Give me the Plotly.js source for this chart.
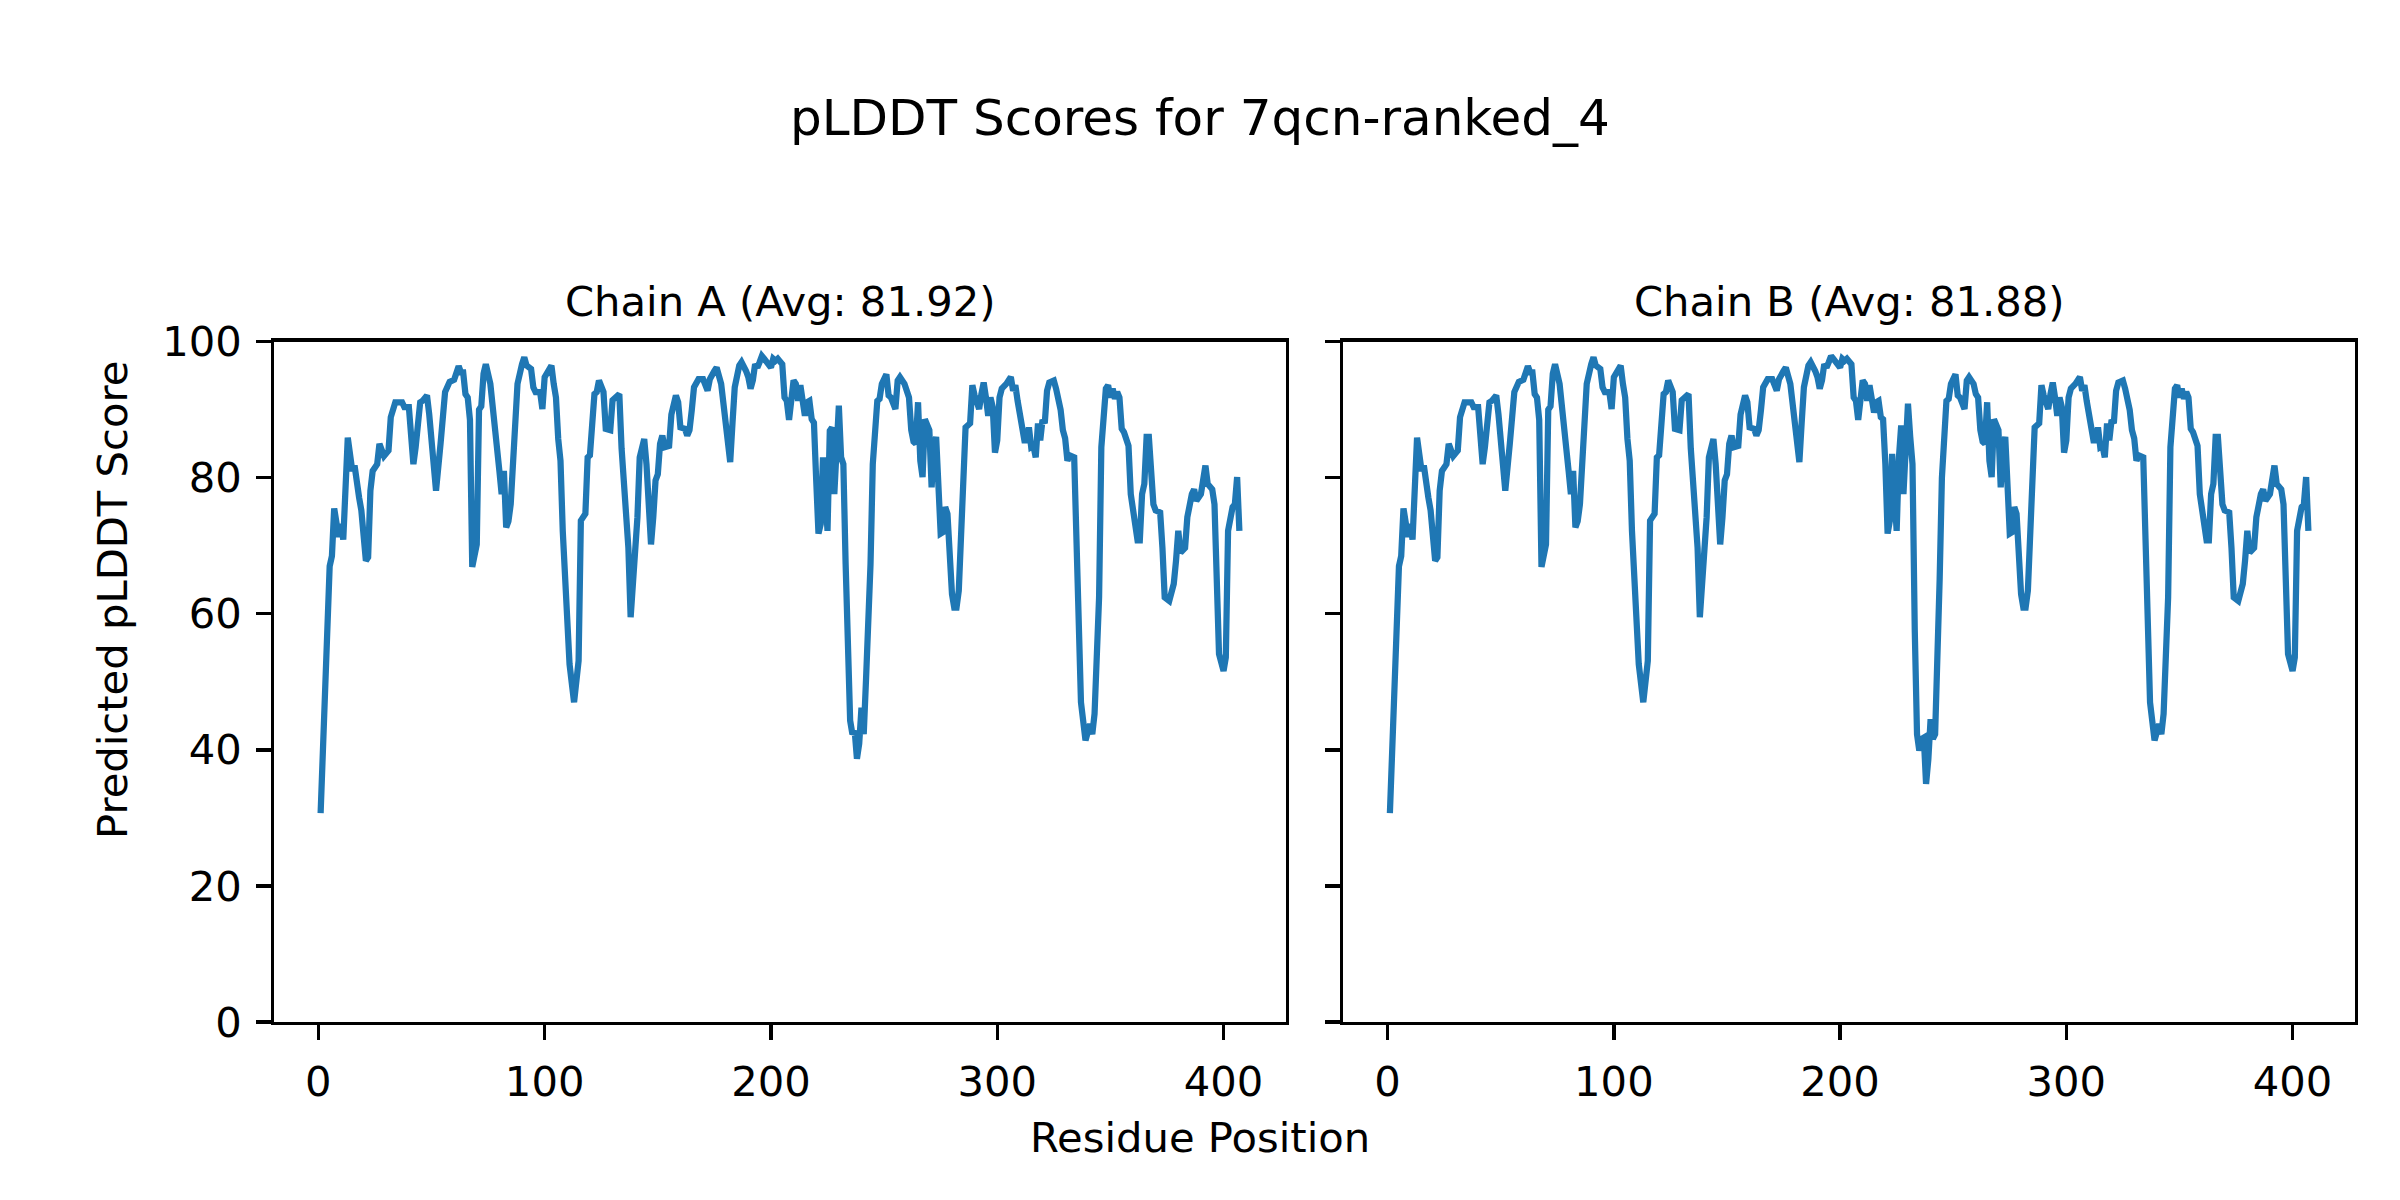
<!DOCTYPE html>
<html>
<head>
<meta charset="utf-8">
<script src="https://cdn.plot.ly/plotly-3.0.1.min.js"></script>
<style>html,body{margin:0;padding:0;background:#fff;} #chart{width:2400px;height:1200px;}</style>
</head>
<body>
<div id="chart"></div>
<script>
// ---- data ----
const figureTitle = "pLDDT Scores for 7qcn-ranked_4";
const chainTitles = ["Chain A (Avg: 81.92)", "Chain B (Avg: 81.88)"];
const xAxisLabel = "Residue Position";
const yAxisLabel = "Predicted pLDDT Score";
const xTickVals = [0, 100, 200, 300, 400];
const yTickVals = [0, 20, 40, 60, 80, 100];

const residues = [
  1,2,3,4,5,6,7,9,10,11,13,15,16,18,19,21,22,23,24,26,27,29,31,32,34,37,38,40,42,43,45,46,48,49,52,54,56,58,60,62,63,64,65,66,67,68,70,71,72,73,74,76,77,78,79,80,81,82,83,84,85,87,88,90,91,92,94,95,96,98,99,100,
  102,103,104,105,106,107,108,109,110,111,113,114,115,116,118,119,120,122,123,124,125,126,127,129,130,132,133,134,136,137,138,140,141,142,144,145,147,148,149,150,151,152,153,155,156,158,159,160,162,163,164,165,166,168,170,172,173,175,176,178,180,181,182,183,184,186,187,189,190,191,192,193,194,195,196,197,200,
  201,202,203,205,206,207,208,210,211,212,213,214,215,216,217,218,219,220,221,222,223,224,225,226,227,228,229,230,231,232,233,234,235,236,237,238,239,240,241,242,244,245,247,248,249,251,252,253,255,256,257,259,260,261,262,263,264,265,266,267,268,270,271,272,273,274,275,276,277,278,279,280,281,282,283,284,285,286,288,289,290,292,293,294,295,296,297,298,299,300,
  301,302,304,305,306,307,308,309,311,312,313,314,315,316,317,318,319,320,321,322,323,325,326,328,329,330,331,332,334,335,336,337,339,341,342,343,345,346,348,349,350,351,352,353,354,355,356,358,359,361,362,363,364,365,366,367,368,369,370,372,373,374,376,377,378,379,380,381,383,384,385,386,387,388,390,391,392,393,395,396,397,398,400,401,402,404,405,406,407
];

const scoresA = [
  30.7,41,50,58,67,68.5,75.5,71.3,73.2,70.9,85.9,81.0,81.8,77.1,75.2,67.8,68.3,78.1,81.0,82.0,85.0,83.2,84.0,88.9,91.1,91.1,90.4,90.4,82.0,84.5,91.1,91.3,92.1,89.3,78.1,85.0,92.6,94.1,94.4,96.4,95.5,95.5,92.3,91.8,88.5,66.9,70.2,90.0,90.5,95.3,96.7,93.8,90.0,88.5,84.3,81.0,77.6,81.0,72.7,73.6,76.1,86.9,93.8,96.7,97.7,96.5,96.0,93.3,92.6,92.6,90.1,94.8,
  96.2,96.5,93.8,91.8,85.7,82.5,72.2,66.3,61.9,52.6,47.0,50.2,53.1,73.7,74.7,83.0,83.3,92.3,92.6,94.3,93.1,92.6,87.2,87.0,91.4,92.1,92.3,84.3,76.1,69.7,59.5,68.3,74.2,83.0,85.7,82.0,70.2,74.2,79.6,80.5,85.0,86.2,84.5,84.7,89.3,92.1,91.1,87.4,87.2,86.2,87.0,89.9,93.3,94.5,94.5,92.8,94.5,95.7,96.2,93.8,87.0,84.1,82.3,88.0,93.3,96.5,97.0,95.7,94.8,93.1,94.3,96.7,96.2,97.0,97.9,97.5,96.2,
  97.5,97.2,97.5,96.7,91.8,91.3,88.5,94.3,93.8,91.3,93.6,91.3,89.1,91.1,91.3,88.6,88.1,79.6,71.8,73.2,83.0,77.6,72.2,86.9,87.4,77.6,84.5,90.6,83.0,82.0,67.3,52.6,44.3,42.3,42.8,38.7,40.9,46.2,42.3,50.2,67.3,82.0,91.3,91.6,93.8,95.2,92.1,91.8,90.1,94.3,94.8,93.8,92.3,91.8,87.0,85.3,85.0,91.1,82.5,80.1,88.6,87.0,78.6,84.5,86.0,75.7,71.8,72.0,75.7,74.7,67.3,62.9,60.9,60.9,63.4,72.2,80.6,87.4,88.0,93.6,92.1,90.1,92.3,94.0,91.8,89.1,91.8,90.4,83.7,85.5,
  91.8,93.1,93.8,94.5,94.8,92.8,93.6,91.3,87.4,85.5,85.5,87.4,84.5,84.7,83.0,88.0,85.5,88.5,88.0,92.8,94.0,94.3,93.1,90.0,87.0,85.8,82.5,83.3,83.0,71.2,60.0,47.0,41.4,43.8,42.3,45.3,62.4,84.5,93.1,93.6,91.8,93.1,91.6,92.6,91.8,87.2,86.7,84.7,77.6,72.2,70.8,70.8,77.6,79.1,86.0,86.0,82.0,76.1,75.2,74.9,69.7,62.4,61.9,63.6,64.4,67.8,72.2,69.0,69.7,74.2,76.8,77.6,78.3,76.6,77.6,80.5,81.8,79.1,78.3,76.1,61.4,54.1,51.6,53.6,72.2,75.7,76.1,80.1,72.2
];

const scoresB = [
  30.7,41,50,58,67,68.5,75.5,71.3,73.2,70.9,85.9,81.0,81.8,77.1,75.2,67.8,68.3,78.1,81.0,82.0,85.0,83.2,84.0,88.9,91.1,91.1,90.4,90.4,82.0,84.5,91.1,91.3,92.1,89.3,78.1,85.0,92.6,94.1,94.4,96.4,95.5,95.5,92.3,91.8,88.5,66.9,70.2,90.0,90.5,95.3,96.7,93.8,90.0,88.5,84.3,81.0,77.6,81.0,72.7,73.6,76.1,86.9,93.8,96.7,97.7,96.5,96.0,93.3,92.6,92.6,90.1,94.8,
  96.2,96.5,93.8,91.8,85.7,82.5,72.2,66.3,61.9,52.6,47.0,50.2,53.1,73.7,74.7,83.0,83.3,92.3,92.6,94.3,93.1,92.6,87.2,87.0,91.4,92.1,92.3,84.3,76.1,69.7,59.5,68.3,74.2,83.0,85.7,82.0,70.2,74.2,79.6,80.5,85.0,86.2,84.5,84.7,89.3,92.1,91.1,87.4,87.2,86.2,87.0,89.9,93.3,94.5,94.5,92.8,94.5,95.7,96.2,93.8,87.0,84.1,82.3,88.0,93.3,96.5,97.0,95.7,94.8,93.1,94.3,96.7,96.2,97.0,97.9,97.5,96.2,
  97.5,97.2,97.5,96.7,91.8,91.3,88.5,94.3,93.8,91.3,93.6,91.3,89.6,91.1,91.3,88.9,88.6,82.0,71.8,73.7,83.5,77.6,72.2,83.0,87.7,77.6,87.0,90.9,86.0,82.0,57.6,42.3,39.9,41.6,41.8,35.0,38.6,44.5,41.6,42.3,65.0,80.0,91.3,91.6,93.8,95.2,92.1,91.8,90.1,94.3,94.8,93.8,92.3,91.8,87.0,85.3,85.0,91.1,82.5,80.1,88.6,87.0,78.6,84.5,86.0,75.7,71.8,72.0,75.7,74.7,67.3,62.9,60.9,60.9,63.4,72.2,80.6,87.4,88.0,93.6,92.1,90.1,92.3,94.0,91.8,89.1,91.8,90.4,83.7,85.5,
  91.8,93.1,93.8,94.5,94.8,92.8,93.6,91.3,87.4,85.5,85.5,87.4,84.5,84.7,83.0,88.0,85.5,88.5,88.0,92.8,94.0,94.3,93.1,90.0,87.0,85.8,82.5,83.3,83.0,71.2,60.0,47.0,41.4,43.8,42.3,45.3,62.4,84.5,93.1,93.6,91.8,93.1,91.6,92.6,91.8,87.2,86.7,84.7,77.6,72.2,70.8,70.8,77.6,79.1,86.0,86.0,82.0,76.1,75.2,74.9,69.7,62.4,61.9,63.6,64.4,67.8,72.2,69.0,69.7,74.2,76.8,77.6,78.3,76.6,77.6,80.5,81.8,79.1,78.3,76.1,61.4,54.1,51.6,53.6,72.2,75.7,76.1,80.1,72.2
];

// ---- drawing ----
const W = 2400, H = 1200;
const FONT = "DejaVu Sans";
const BLUE = "#1f77b4";
const LW = 3.3;        // spine width
const TICKLEN = 14.6;

const traces = [
  {x: residues, y: scoresA, type: "scatter", mode: "lines", line: {color: BLUE, width: 6.25}, xaxis: "x", yaxis: "y", showlegend: false, hoverinfo: "skip"},
  {x: residues, y: scoresB, type: "scatter", mode: "lines", line: {color: BLUE, width: 6.25}, xaxis: "x2", yaxis: "y2", showlegend: false, hoverinfo: "skip"}
];

const xRange = [-19.6, 427.6];
const px = v => v / W, py = v => 1 - v / H;

function xAxis(domain, anchor) {
  return {
    domain: domain, anchor: anchor, range: xRange, tickmode: "array", tickvals: xTickVals,
    ticks: "outside", ticklen: TICKLEN, tickwidth: LW, tickcolor: "#000",
    showline: true, linecolor: "#000", linewidth: LW, mirror: true,
    showgrid: false, zeroline: false, ticklabelstandoff: 6,
    tickfont: {family: FONT, size: 41.7, color: "#000"}
  };
}
function yAxis(anchor, labels) {
  return {
    domain: [py(1022), py(341.7)], anchor: anchor, range: [0, 100], tickmode: "array", tickvals: yTickVals,
    ticks: "outside", ticklen: TICKLEN, tickwidth: LW, tickcolor: "#000",
    showline: true, linecolor: "#000", linewidth: LW, mirror: true,
    showgrid: false, zeroline: false, showticklabels: labels, ticklabelstandoff: 6,
    tickfont: {family: FONT, size: 41.7, color: "#000"}
  };
}

const layout = {
  width: W, height: H,
  margin: {l: 0, r: 0, t: 0, b: 0, pad: 0},
  paper_bgcolor: "#fff", plot_bgcolor: "#fff",
  showlegend: false,
  xaxis: xAxis([px(274), px(1286)], "y"),
  yaxis: yAxis("x", true),
  xaxis2: xAxis([px(1343.3), px(2355)], "y2"),
  yaxis2: yAxis("x2", false),
  annotations: [
    {text: figureTitle, xref: "paper", yref: "paper", x: 0.5, y: py(118), xanchor: "center", yanchor: "middle", showarrow: false, font: {family: FONT, size: 50, color: "#000"}},
    {text: chainTitles[0], xref: "paper", yref: "paper", x: px(780), y: py(301), xanchor: "center", yanchor: "middle", showarrow: false, font: {family: FONT, size: 41.7, color: "#000"}},
    {text: chainTitles[1], xref: "paper", yref: "paper", x: px(1849), y: py(301), xanchor: "center", yanchor: "middle", showarrow: false, font: {family: FONT, size: 41.7, color: "#000"}},
    {text: xAxisLabel, xref: "paper", yref: "paper", x: 0.5, y: py(1137), xanchor: "center", yanchor: "middle", showarrow: false, font: {family: FONT, size: 41.7, color: "#000"}},
    {text: yAxisLabel, xref: "paper", yref: "paper", x: px(112), y: 0.5, xanchor: "center", yanchor: "middle", textangle: -90, showarrow: false, font: {family: FONT, size: 41.7, color: "#000"}}
  ]
};

Plotly.newPlot("chart", traces, layout, {staticPlot: true, displayModeBar: false});
</script>
</body>
</html>
